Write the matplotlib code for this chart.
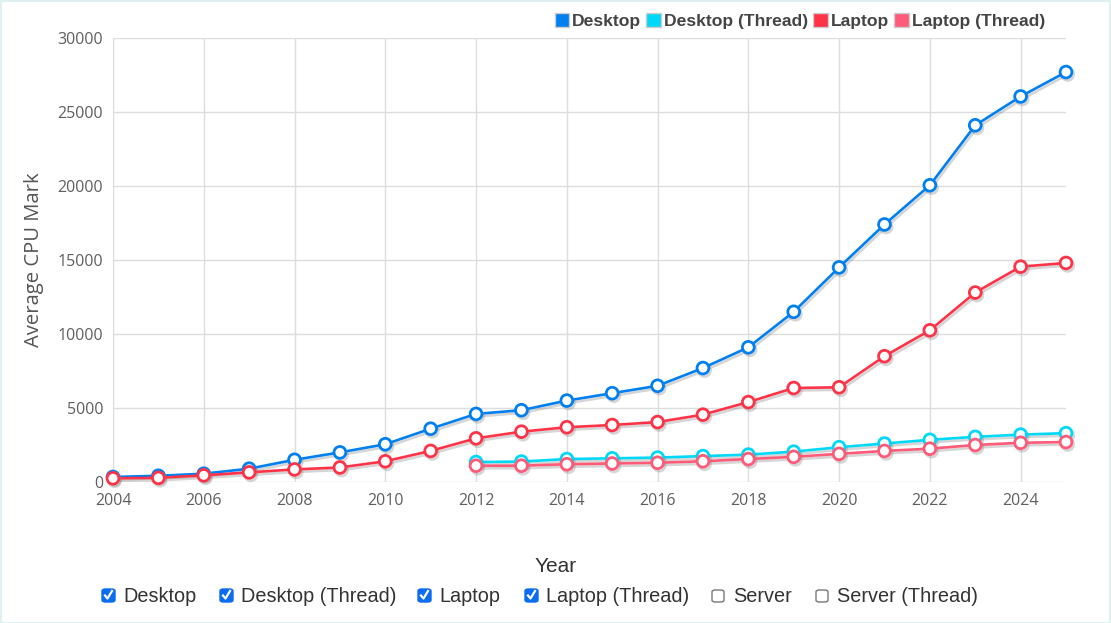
import numpy as np
import matplotlib
matplotlib.use("Agg")
import matplotlib.pyplot as plt
import matplotlib.patheffects as pe
from matplotlib.patches import Rectangle, FancyBboxPatch

# years and series values
years = list(range(2004, 2026))
desktop = [340, 420, 560, 900, 1500, 2000, 2550, 3600, 4600, 4850, 5500, 6000,
           6500, 7700, 9100, 11500, 14500, 17400, 20050, 24100, 26050, 27700]
laptop = [250, 280, 450, 650, 850, 980, 1400, 2100, 2950, 3400, 3700, 3850,
          4050, 4550, 5400, 6350, 6400, 8500, 10250, 12800, 14550, 14800]
thread_years = list(range(2012, 2026))
desktop_thread = [1350, 1380, 1550, 1600, 1650, 1750, 1850, 2050, 2350, 2600,
                  2850, 3050, 3200, 3300]
laptop_thread = [1100, 1100, 1200, 1250, 1300, 1400, 1550, 1700, 1900, 2100,
                 2250, 2500, 2650, 2700]

series_names = ["Desktop", "Desktop (Thread)", "Laptop", "Laptop (Thread)"]
colors = ["#0080f0", "#00d8f8", "#ff3347", "#ff5a78"]
checkbox_labels = ["Desktop", "Desktop (Thread)", "Laptop", "Laptop (Thread)",
                   "Server", "Server (Thread)"]
checked = [True, True, True, True, False, False]

W, H = 1111, 623
fig = plt.figure(figsize=(W / 100, H / 100), dpi=100)
ax = fig.add_axes([113 / W, 1 - 482 / H, (1066 - 113) / W, (482 - 38) / H])

shadow = [pe.SimpleLineShadow(offset=(1.2, -1.8), shadow_color="#888888", alpha=0.35),
          pe.Normal()]

data = [(years, desktop), (thread_years, desktop_thread),
        (years, laptop), (thread_years, laptop_thread)]
for i in range(4):
    xs, ys = data[i]
    ax.plot(xs, ys, color=colors[i], lw=1.9, marker="o", ms=8.5,
            markerfacecolor="white", markeredgecolor=colors[i], mew=2.0,
            path_effects=shadow, zorder=3 + i, clip_on=False)

ax.set_xlim(2004, 2025)
ax.set_ylim(0, 30000)
ax.set_xticks(range(2004, 2026, 2))
ax.set_yticks(range(0, 30001, 5000))
ax.grid(True, color="#dddddd", lw=1)
ax.set_axisbelow(True)
for s in ["top", "right", "bottom"]:
    ax.spines[s].set_visible(False)
ax.spines["left"].set_color("#dddddd")
ax.tick_params(axis="y", length=0, pad=7)
ax.tick_params(axis="x", length=0, pad=8)
for lbl in ax.get_xticklabels() + ax.get_yticklabels():
    lbl.set_family("Open Sans")
    lbl.set_fontsize(11.5)
    lbl.set_color("#5f5f5f")
    lbl.set_weight("medium")
ax.set_ylabel("Average CPU Mark", family="Open Sans", fontsize=14.6,
              color="#555555", labelpad=10)

# top legend
handles = [Rectangle((0, 0), 1, 1, facecolor=c, edgecolor="#cccccc", lw=1)
           for c in colors]
leg = fig.legend(handles, series_names, loc="upper right",
                 bbox_to_anchor=(1052 / W, 1 - 6 / H), ncol=4, frameon=False,
                 handlelength=0.85, handleheight=0.85, handletextpad=0.15,
                 columnspacing=0.3, borderaxespad=0,
                 prop={"family": "Liberation Sans", "weight": "bold", "size": 12.6})
for t in leg.get_texts():
    t.set_color("#444444")

# bottom: axis title and series checkboxes
fig.text(556 / W, 1 - 566 / H, "Year", ha="center", va="center",
         family="Liberation Sans", fontsize=15, color="#333333")

box_x = [102, 220, 418, 525, 712, 816]
for bx, lab, on in zip(box_x, checkbox_labels, checked):
    y0 = 1 - 602 / H
    if on:
        fig.add_artist(FancyBboxPatch((bx / W, y0), 13 / W, 13 / H,
                                      boxstyle="round,pad=0,rounding_size=0.003",
                                      facecolor="#0a6cf0", edgecolor="#0a6cf0",
                                      transform=fig.transFigure))
        fig.add_artist(plt.Line2D([(bx + 3) / W, (bx + 5.5) / W, (bx + 10) / W],
                                  [1 - 595.5 / H, 1 - 598.5 / H, 1 - 591 / H],
                                  color="white", lw=1.6,
                                  transform=fig.transFigure))
    else:
        fig.add_artist(FancyBboxPatch((bx / W, y0), 12 / W, 12 / H,
                                      boxstyle="round,pad=0,rounding_size=0.003",
                                      facecolor="white", edgecolor="#777777",
                                      lw=1, transform=fig.transFigure))
    fig.text((bx + 21) / W, 1 - 596 / H, lab, ha="left", va="center",
             family="Liberation Sans", fontsize=14.3, color="#333333")

# thin frame around the whole chart
fig.add_artist(Rectangle((0.5 / W, 0.5 / H), 1 - 1.5 / W, 1 - 1.5 / H,
                         fill=False, edgecolor="#dff0f0", lw=1.5,
                         transform=fig.transFigure))

fig.savefig("out.png", dpi=100)
